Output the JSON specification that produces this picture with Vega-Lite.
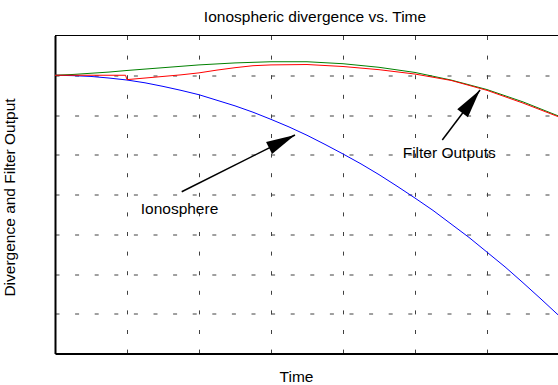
{
  "$schema": "https://vega.github.io/schema/vega-lite/v6.json",
  "width": 503,
  "height": 318,
  "autosize": {"type": "none"},
  "padding": {"left": 55, "top": 35.5, "right": 0, "bottom": 31.5},
  "background": "white",
  "title": {
    "text": "Ionospheric divergence vs. Time",
    "fontSize": 15.5,
    "fontWeight": "normal",
    "font": "Liberation Sans",
    "color": "black",
    "anchor": "middle",
    "frame": "group",
    "dx": 8.5,
    "dy": 17,
    "offset": 15,
    "baseline": "alphabetic"
  },
  "config": {
    "font": "Liberation Sans",
    "view": {"stroke": null},
    "axis": {
      "labels": false,
      "ticks": false,
      "domainColor": "black",
      "domainWidth": 2,
      "grid": true,
      "gridColor": "#404040",
      "gridWidth": 1,
      "gridDash": [4, 15.6],
      "titleFont": "Liberation Sans",
      "titleFontSize": 15.5,
      "titleFontWeight": "normal",
      "titleColor": "black",
      "titleAlign": "center",
      "titleBaseline": "alphabetic"
    }
  },
  "datasets": {
    "curves": [
      {"t": 0, "v": 7.00, "series": "Ionosphere"},
      {"t": 0.25, "v": 6.99, "series": "Ionosphere"},
      {"t": 0.5, "v": 6.97, "series": "Ionosphere"},
      {"t": 0.75, "v": 6.93, "series": "Ionosphere"},
      {"t": 1, "v": 6.88, "series": "Ionosphere"},
      {"t": 1.25, "v": 6.81, "series": "Ionosphere"},
      {"t": 1.5, "v": 6.72, "series": "Ionosphere"},
      {"t": 1.75, "v": 6.62, "series": "Ionosphere"},
      {"t": 2, "v": 6.51, "series": "Ionosphere"},
      {"t": 2.25, "v": 6.37, "series": "Ionosphere"},
      {"t": 2.5, "v": 6.23, "series": "Ionosphere"},
      {"t": 2.75, "v": 6.07, "series": "Ionosphere"},
      {"t": 3, "v": 5.89, "series": "Ionosphere"},
      {"t": 3.25, "v": 5.70, "series": "Ionosphere"},
      {"t": 3.5, "v": 5.49, "series": "Ionosphere"},
      {"t": 3.75, "v": 5.26, "series": "Ionosphere"},
      {"t": 4, "v": 5.02, "series": "Ionosphere"},
      {"t": 4.25, "v": 4.77, "series": "Ionosphere"},
      {"t": 4.5, "v": 4.50, "series": "Ionosphere"},
      {"t": 4.75, "v": 4.21, "series": "Ionosphere"},
      {"t": 5, "v": 3.91, "series": "Ionosphere"},
      {"t": 5.25, "v": 3.60, "series": "Ionosphere"},
      {"t": 5.5, "v": 3.26, "series": "Ionosphere"},
      {"t": 5.75, "v": 2.92, "series": "Ionosphere"},
      {"t": 6, "v": 2.55, "series": "Ionosphere"},
      {"t": 6.25, "v": 2.18, "series": "Ionosphere"},
      {"t": 6.5, "v": 1.78, "series": "Ionosphere"},
      {"t": 6.75, "v": 1.37, "series": "Ionosphere"},
      {"t": 7, "v": 0.95, "series": "Ionosphere"},
      {"t": 0, "v": 7.00, "series": "Filter A"},
      {"t": 0.25, "v": 7.02, "series": "Filter A"},
      {"t": 0.5, "v": 7.05, "series": "Filter A"},
      {"t": 0.75, "v": 7.08, "series": "Filter A"},
      {"t": 1, "v": 7.12, "series": "Filter A"},
      {"t": 1.5, "v": 7.19, "series": "Filter A"},
      {"t": 2, "v": 7.26, "series": "Filter A"},
      {"t": 2.5, "v": 7.31, "series": "Filter A"},
      {"t": 3, "v": 7.34, "series": "Filter A"},
      {"t": 3.5, "v": 7.34, "series": "Filter A"},
      {"t": 4, "v": 7.29, "series": "Filter A"},
      {"t": 4.5, "v": 7.20, "series": "Filter A"},
      {"t": 5, "v": 7.07, "series": "Filter A"},
      {"t": 5.5, "v": 6.88, "series": "Filter A"},
      {"t": 6, "v": 6.64, "series": "Filter A"},
      {"t": 6.5, "v": 6.33, "series": "Filter A"},
      {"t": 7, "v": 5.97, "series": "Filter A"},
      {"t": 0, "v": 7.00, "series": "Filter B"},
      {"t": 0.5, "v": 7.00, "series": "Filter B"},
      {"t": 0.98, "v": 7.00, "series": "Filter B"},
      {"t": 1.0, "v": 6.89, "series": "Filter B"},
      {"t": 1.25, "v": 6.93, "series": "Filter B"},
      {"t": 1.5, "v": 6.97, "series": "Filter B"},
      {"t": 1.75, "v": 7.01, "series": "Filter B"},
      {"t": 2, "v": 7.06, "series": "Filter B"},
      {"t": 2.25, "v": 7.13, "series": "Filter B"},
      {"t": 2.5, "v": 7.19, "series": "Filter B"},
      {"t": 2.75, "v": 7.24, "series": "Filter B"},
      {"t": 3, "v": 7.26, "series": "Filter B"},
      {"t": 3.5, "v": 7.27, "series": "Filter B"},
      {"t": 4, "v": 7.22, "series": "Filter B"},
      {"t": 4.5, "v": 7.14, "series": "Filter B"},
      {"t": 5, "v": 7.03, "series": "Filter B"},
      {"t": 5.5, "v": 6.87, "series": "Filter B"},
      {"t": 6, "v": 6.62, "series": "Filter B"},
      {"t": 6.5, "v": 6.30, "series": "Filter B"},
      {"t": 7, "v": 5.95, "series": "Filter B"}
    ],
    "notes": [
      {"label": "Ionosphere", "tx": 1.729, "ty": 3.502},
      {"label": "Filter Outputs", "tx": 5.475, "ty": 4.926}
    ],
    "arrows": [
      {"x0": 1.760, "y0": 4.070, "x1": 3.333, "y1": 5.497, "ang": 333.4},
      {"x0": 5.379, "y0": 5.371, "x1": 5.903, "y1": 6.629, "ang": 307}
    ]
  },
  "layer": [
    {
      "data": {"name": "curves"},
      "mark": {"type": "line", "strokeWidth": 1, "clip": true},
      "encoding": {
        "x": {
          "field": "t", "type": "quantitative",
          "scale": {"domain": [0, 6.986], "nice": false, "zero": false},
          "axis": {"values": [1, 2, 3, 4, 5, 6], "title": "Time", "titleX": 241, "titleY": 27.5}
        },
        "y": {
          "field": "v", "type": "quantitative",
          "scale": {"domain": [0, 8], "nice": false, "zero": false},
          "axis": {"values": [1, 2, 3, 4, 5, 6, 7], "title": "Divergence and Filter Output", "titleX": -41, "titleY": 161.5, "titleAngle": -90}
        },
        "color": {
          "field": "series", "type": "nominal",
          "scale": {"domain": ["Ionosphere", "Filter A", "Filter B"], "range": ["#0000ff", "#008000", "#ff0000"]},
          "legend": null
        }
      }
    },
    {
      "data": {"values": [{"top": 8}]},
      "mark": {"type": "rule", "color": "black", "strokeWidth": 1},
      "encoding": {"y": {"field": "top", "type": "quantitative"}}
    },
    {
      "data": {"name": "arrows"},
      "mark": {"type": "rule", "color": "black", "strokeWidth": 1.5},
      "encoding": {
        "x": {"field": "x0", "type": "quantitative"},
        "y": {"field": "y0", "type": "quantitative"},
        "x2": {"field": "x1"},
        "y2": {"field": "y1"}
      }
    },
    {
      "data": {"name": "arrows"},
      "mark": {"type": "point", "shape": "M0,0 L-1,-0.23 L-1,0.23 Z", "filled": true, "color": "black", "opacity": 1, "size": 3364, "strokeWidth": 0},
      "encoding": {
        "x": {"field": "x1", "type": "quantitative"},
        "y": {"field": "y1", "type": "quantitative"},
        "angle": {"field": "ang", "type": "quantitative", "scale": null}
      }
    },
    {
      "data": {"name": "notes"},
      "mark": {"type": "text", "fontSize": 15.5, "font": "Liberation Sans", "color": "black", "align": "center", "baseline": "alphabetic"},
      "encoding": {
        "x": {"field": "tx", "type": "quantitative"},
        "y": {"field": "ty", "type": "quantitative"},
        "text": {"field": "label"}
      }
    }
  ]
}
